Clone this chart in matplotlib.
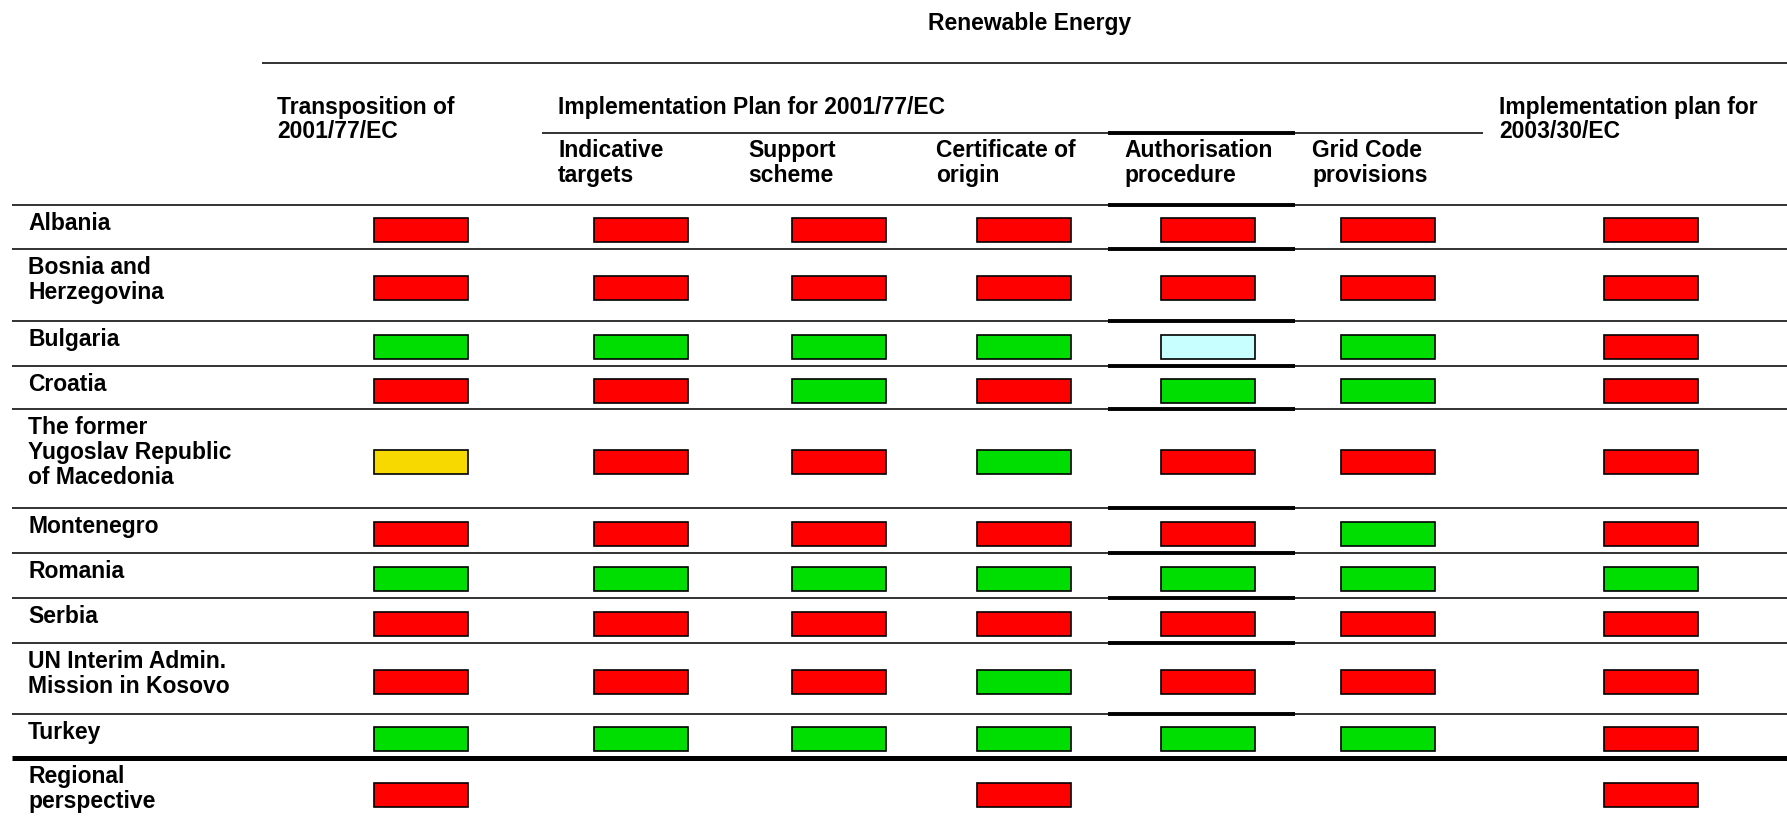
import matplotlib.pyplot as plt
from matplotlib.patches import Rectangle

plt.rcParams['font.family'] = ['Liberation Sans', 'DejaVu Sans']

# Table content
countries = ['Albania', 'Bosnia and\nHerzegovina', 'Bulgaria', 'Croatia',
             'The former\nYugoslav Republic\nof Macedonia', 'Montenegro', 'Romania',
             'Serbia', 'UN Interim Admin.\nMission in Kosovo', 'Turkey',
             'Regional\nperspective']
sub_headers = ['Indicative\ntargets', 'Support\nscheme', 'Certificate of\norigin',
               'Authorisation\nprocedure', 'Grid Code\nprovisions']

# status per column: transposition, indicative, support, certificate,
# authorisation, grid code, implementation 2003/30/EC  (None = empty)
status = [
    ['R', 'R', 'R', 'R', 'R', 'R', 'R'],
    ['R', 'R', 'R', 'R', 'R', 'R', 'R'],
    ['G', 'G', 'G', 'G', 'C', 'G', 'R'],
    ['R', 'R', 'G', 'R', 'G', 'G', 'R'],
    ['Y', 'R', 'R', 'G', 'R', 'R', 'R'],
    ['R', 'R', 'R', 'R', 'R', 'G', 'R'],
    ['G', 'G', 'G', 'G', 'G', 'G', 'G'],
    ['R', 'R', 'R', 'R', 'R', 'R', 'R'],
    ['R', 'R', 'R', 'G', 'R', 'R', 'R'],
    ['G', 'G', 'G', 'G', 'G', 'G', 'R'],
    ['R', None, None, 'R', None, None, 'R'],
]
colors = {'R': '#ff0000', 'G': '#00dd00', 'Y': '#f7d900', 'C': '#c8ffff'}

# layout (pixel coordinates of the page)
W, H = 1787, 828
row_edges = [206, 250, 322, 367, 410, 509, 554, 599, 644, 715, 759, 828]
col_centers = [421, 641, 839, 1024, 1208, 1388, 1651]
sub_x = [558, 748, 936, 1124, 1312]
box_w, box_h = 94, 24
fs = 16.5

fig = plt.figure(figsize=(W / 100, H / 100), dpi=100)
ax = fig.add_axes([0, 0, 1, 1])
ax.set_xlim(0, W)
ax.set_ylim(H, 0)
ax.axis('off')

# headers
ax.text(1030, 12, 'Renewable Energy', fontsize=fs, fontweight='bold', ha='center', va='top')
ax.hlines(64, 262, W, color='#222222', lw=1.3)
ax.text(277, 96, 'Transposition of\n2001/77/EC', fontsize=fs, fontweight='bold', va='top',
        linespacing=1.05)
ax.text(558, 96, 'Implementation Plan for 2001/77/EC', fontsize=fs, fontweight='bold', va='top')
ax.text(1499, 96, 'Implementation plan for\n2003/30/EC', fontsize=fs, fontweight='bold', va='top',
        linespacing=1.05)
ax.hlines(134, 542, 1483, color='#222222', lw=1.3)
for x, s in zip(sub_x, sub_headers):
    ax.text(x, 139, s, fontsize=fs, fontweight='bold', va='top', linespacing=1.1)

# row separators
for i, y in enumerate(row_edges[:-1]):
    if i == len(row_edges) - 2:
        ax.hlines(y, 12, W, color='black', lw=3.6)
    else:
        ax.hlines(y, 12, W, color='#222222', lw=1.3)
# thicker segments over the Authorisation column
for y in [134] + row_edges[:-2]:
    ax.hlines(y, 1108, 1295, color='black', lw=2.8)

# country names and status boxes
for i, name in enumerate(countries):
    top, bot = row_edges[i], row_edges[i + 1]
    ax.text(28, top + 6, name, fontsize=fs, fontweight='bold', va='top', linespacing=1.1)
    mid = (top + bot) / 2 + 3
    for j, s in enumerate(status[i]):
        if s is None:
            continue
        ax.add_patch(Rectangle((col_centers[j] - box_w / 2, mid - box_h / 2), box_w, box_h,
                               facecolor=colors[s], edgecolor='black', lw=1.2))

fig.savefig('out.png', dpi=100)
